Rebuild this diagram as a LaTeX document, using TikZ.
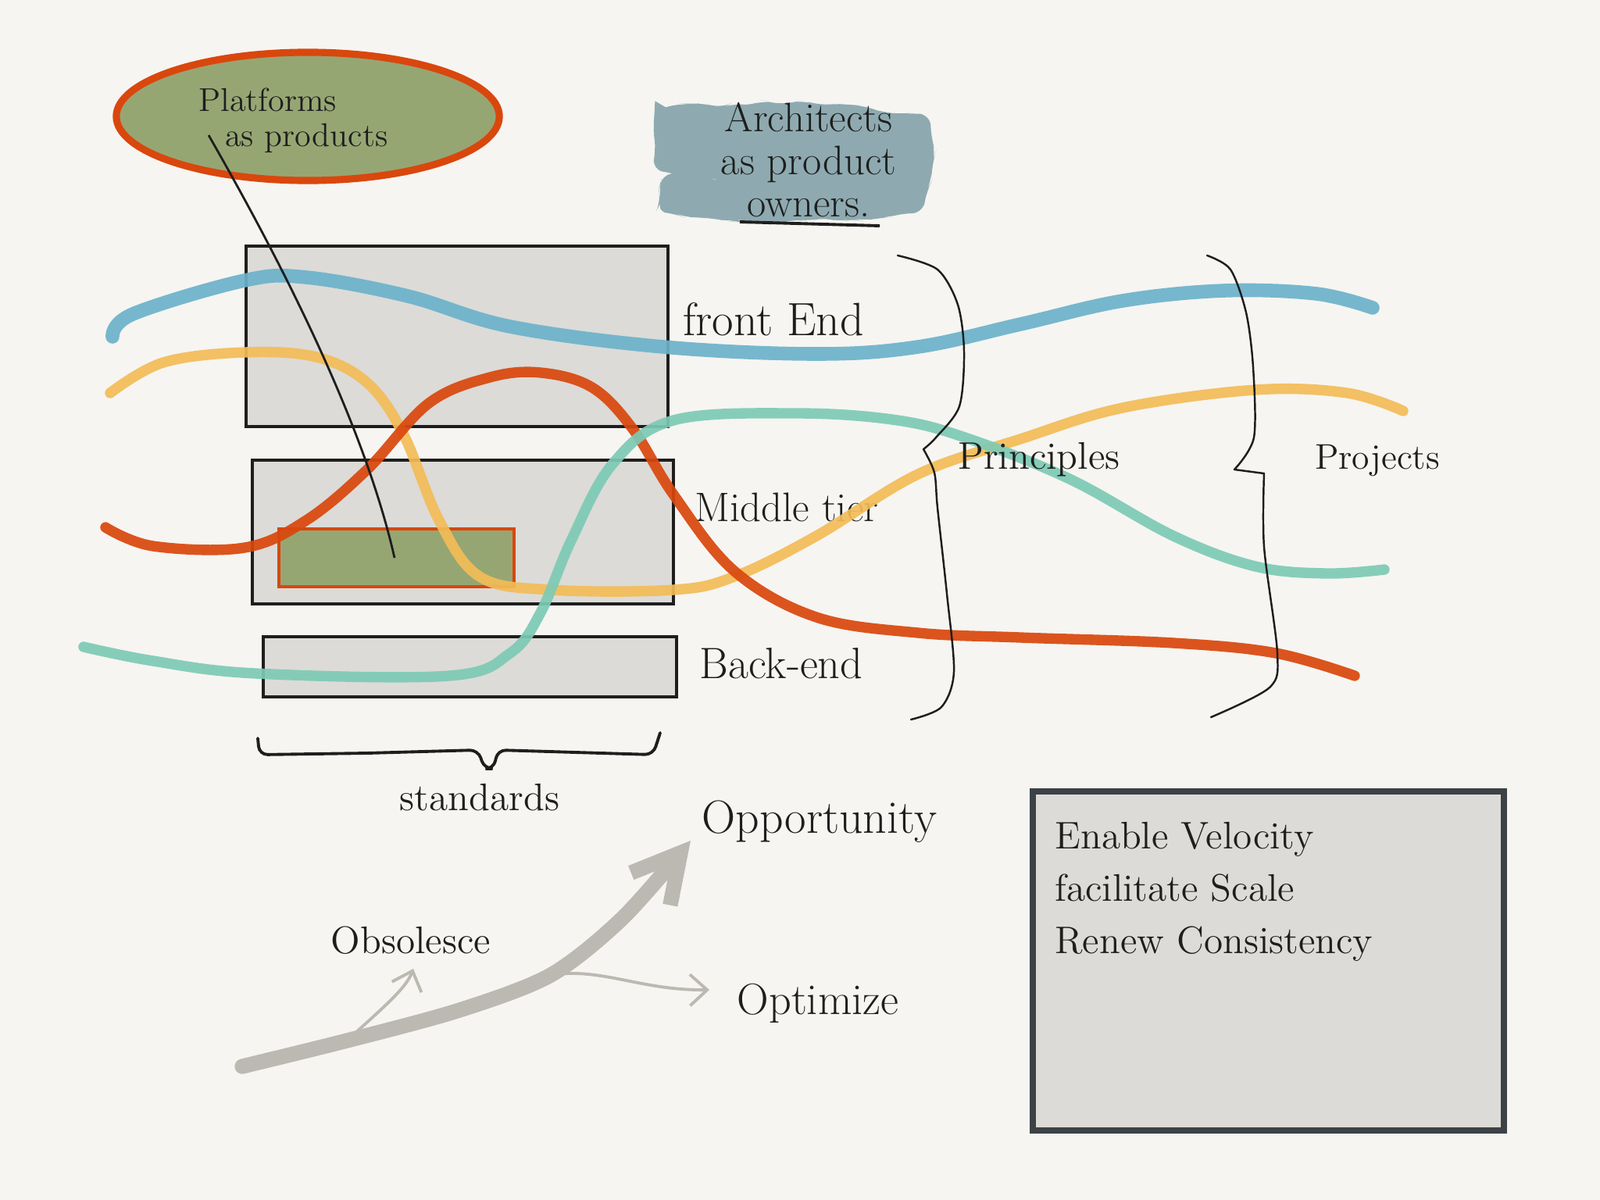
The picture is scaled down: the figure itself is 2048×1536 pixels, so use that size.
\documentclass[tikz,border=0pt]{standalone}
\usepackage{fontspec}
\usetikzlibrary{shapes.geometric,arrows.meta,decorations.pathmorphing}

\definecolor{paper}{HTML}{F6F5F1}
\definecolor{ink}{HTML}{1E1E1E}
\definecolor{boxgray}{HTML}{DCDBD7}
\definecolor{frontblue}{HTML}{6CB2CB}
\definecolor{amber}{HTML}{F3BC57}
\definecolor{rust}{HTML}{D9470D}
\definecolor{teal}{HTML}{7DCAB5}
\definecolor{olive}{HTML}{96A673}
\definecolor{slate}{HTML}{8EAAB0}
\definecolor{growth}{HTML}{BCB9B2}
\definecolor{frame}{HTML}{3C4245}

\begin{document}
\begin{tikzpicture}[x=0.01cm, y=-0.01cm,
    layer/.style={draw=ink, fill=boxgray, line width=1.4pt},
    flow/.style={line width=3.8pt, line cap=round, opacity=0.92},
    bracket/.style={draw=ink, line width=0.7pt, line cap=round},
    growline/.style={draw=growth, line cap=round},
    hand/.style={text=ink, font=\fontsize{#1}{#1}\selectfont},
    hand/.default=16]

    \fill[paper] (0,0) rectangle (2048,1536);
    \useasboundingbox (0,0) rectangle (2048,1536);

    % platforms bubble
    \node[ellipse, draw=rust, fill=olive, line width=2.6pt,
          minimum width=4.9cm, minimum height=1.64cm] (platforms) at (394,149) {};
    \node[text=ink, align=left, anchor=north west, font=\fontsize{12}{13}\selectfont] (platformtext) at (242,100)
        {Platforms\\\hspace{0.8em}as products};
    \coordinate (pin) at (267,173);

    % architects blob
    \fill[slate, rounded corners=4pt, decorate,
          decoration={random steps, segment length=5pt, amplitude=1.3pt}]
        (838,138) -- (1000,130) -- (1180,146) -- (1197,190) -- (1190,228)
        -- (1183,262) -- (1140,278) -- (960,283) -- (850,272) -- (842,245)
        -- (848,229) -- (930,231) -- (845,219) -- (836,180) -- cycle;
    \node[text=ink, align=center, font=\fontsize{15}{15.5}\selectfont] (architects) at (1035,205)
        {Architects\\as product\\owners.};
    \coordinate (ul1) at (947,284);
    \coordinate (ul2) at (1126,289);
    \draw[ink, line width=1.1pt] (ul1) -- (ul2);

    % tiers
    \draw[layer] (315,315) rectangle (855,546);
    \draw[layer] (323,589) rectangle (862,773);
    \draw[layer] (337,815) rectangle (866,892);
    \draw[draw=rust, fill=olive, line width=1.4pt] (357,677) rectangle (658,751);
    \coordinate (target) at (505,714);

    \node[hand=17] (frontend) at (990,409) {front End};
    \node[hand=15] (middle) at (1007,649) {Middle tier};
    \node[hand=16] (backend) at (1000,849) {Back-end};

    % flows
    \draw[flow, frontblue, line width=5pt] plot[smooth, tension=0.6] coordinates {
        (144,431) (170,402) (313,359) (392,355) (522,379) (653,418) (849,444)
        (1045,453) (1175,444) (1306,415) (1437,385) (1567,372) (1685,376) (1757,394)};
    \draw[flow, amber] plot[smooth, tension=0.6] coordinates {
        (141,503) (209,464) (313,451) (405,457) (470,490) (516,555) (562,666)
        (614,738) (705,755) (862,755) (940,738) (1045,686) (1175,607) (1306,562)
        (1437,522) (1607,499) (1724,503) (1796,526)};
    \draw[flow, rust] plot[smooth, tension=0.6] coordinates {
        (135,675) (196,699) (313,701) (392,666) (470,601) (549,516) (627,483)
        (692,477) (758,496) (810,549) (862,633) (940,731) (1045,790) (1175,810)
        (1306,816) (1502,823) (1633,836) (1734,865)};
    \draw[flow, teal] plot[smooth, tension=0.6] coordinates {
        (107,828) (196,846) (327,862) (575,865) (653,836) (692,784) (731,692)
        (784,594) (862,538) (1019,529) (1149,538) (1241,562) (1371,614)
        (1502,686) (1607,725) (1698,734) (1772,729)};

    % pointer
    \draw[ink, line width=0.8pt] (pin) .. controls (380,370) and (470,560) .. (target);

    % principles brace
    \coordinate (pcusp) at (1182,575);
    \draw[bracket] plot[smooth] coordinates {(1149,327) (1200,345) (1226,390) (1234,450) (1228,520) (1198,560) (pcusp)};
    \draw[bracket] plot[smooth] coordinates {(pcusp) (1196,605) (1200,650) (1212,760) (1221,860) (1205,905) (1166,921)};
    \node[hand=14] (principles) at (1330,588) {Principles};

    % projects brace
    \coordinate (jcusp) at (1580,601);
    \draw[bracket] plot[smooth] coordinates {(1545,327) (1575,345) (1595,400) (1604,470) (1605,560) (jcusp)};
    \draw[bracket] (jcusp) -- (1618,606);
    \draw[bracket] plot[smooth] coordinates {(1618,606) (1618,700) (1635,836) (1625,880) (1550,918)};
    \node[hand=13] (projects) at (1763,590) {Projects};

    % standards brace
    \coordinate (scusp) at (626,984);
    \draw[bracket, line width=1.1pt, rounded corners=3pt]
        (330,945) -- (332,966) -- (470,964) -- (612,960) -- (620,984) -- (632,984) -- (637,960) -- (836,966) -- (845,938);
    \node[hand=14] (standards) at (614,1021) {standards};

    % growth arrows
    \coordinate (root) at (310,1365);
    \coordinate (forkA) at (444,1332);
    \coordinate (forkB) at (705,1248);
    \coordinate (tip) at (884,1076);
    \draw[growline, line width=5.5pt, -{Straight Barb[length=6mm, width=6.5mm]}]
        plot[smooth] coordinates {(root) (forkA) (588,1293) (forkB) (797,1175) (tip)};
    \draw[growline, line width=1.1pt, -{Straight Barb[length=2.2mm, width=4mm]}]
        (forkA) .. controls (490,1290) and (520,1265) .. (529,1240);
    \draw[growline, line width=1.1pt, -{Straight Barb[length=2.2mm, width=4mm]}]
        (forkB) .. controls (770,1238) and (820,1268) .. (908,1267);
    \node[hand=17] (opportunity) at (1049,1052) {Opportunity};
    \node[hand=14] (obsolesce) at (526,1204) {Obsolesce};
    \node[hand=16] (optimize) at (1047,1284) {Optimize};

    % goals panel
    \draw[draw=frame, fill=boxgray, line width=2.2pt] (1322,1013) rectangle (1925,1447);
    \node[text=ink, align=left, anchor=north west, font=\fontsize{14}{19}\selectfont] (goals) at (1338,1040)
        {Enable Velocity\\facilitate Scale\\Renew Consistency};

\end{tikzpicture}
\end{document}
